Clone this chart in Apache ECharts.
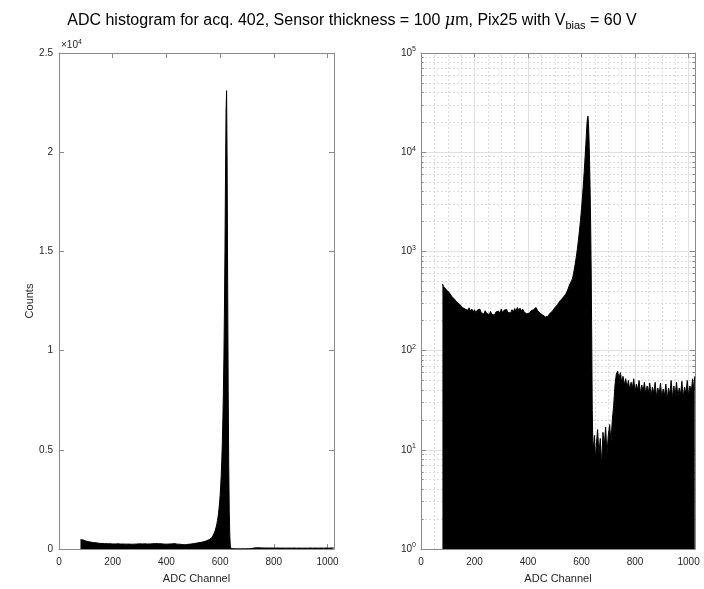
<!DOCTYPE html>
<html><head><meta charset="utf-8">
<script src="https://cdn.jsdelivr.net/npm/echarts@6/dist/echarts.min.js"></script>
<style>html,body{margin:0;padding:0;background:#fff}#c{width:704px;height:589px}</style>
</head><body><div id="c"></div>
<script>
// ADC channel positions of the read samples
const channels = [
 80,85,90,95,100,105,110,115,120,125,130,135,140,145,150,155,160,165,170,175,
 180,185,190,195,200,205,210,215,220,225,230,235,240,245,250,255,260,265,270,275,
 280,285,290,295,300,305,310,315,320,325,330,335,340,345,350,355,360,365,370,375,
 380,385,390,395,400,405,410,415,420,425,430,435,440,445,450,455,460,465,470,475,
 480,485,490,495,500,505,510,515,520,525,530,535,540,545,550,555,
 560,562,564,566,568,570,572,574,576,578,580,582,584,586,588,590,592,594,596,598,
 600,602,604,606,608,610,612,614,616,618,620,622,624,626,628,630,632,634,636,638,640,642,
 644,648,652,656,660,665,670,675,680,685,690,695,700,705,710,715,720,725,730,735,
 740,745,750,755,760,765,770,775,780,785,790,795,800,805,810,815,820,825,830,835,
 840,845,850,855,860,865,870,875,880,885,890,895,900,905,910,915,920,925,930,935,
 940,945,950,955,960,965,970,975,980,985,990,995,1000,1005,1010,1015,1020,1023
];
// counts at those channels
const counts = [
 470,440,455,410,400,385,370,352,345,330,320,305,312,292,285,272,280,262,268,255,
 270,250,262,245,258,240,255,245,262,240,250,235,252,238,245,230,248,232,240,228,
 245,235,250,238,262,240,255,245,260,242,250,240,258,245,265,250,272,255,268,250,
 262,245,250,235,245,238,250,245,258,265,272,255,245,238,240,228,225,218,212,222,
 235,230,248,255,270,282,290,300,318,330,340,352,368,390,420,460,
 480,500,510,530,560,600,640,690,740,800,870,950,1040,1150,1280,1430,1600,1800,2050,2350,
 2700,3150,3700,4400,5300,6400,7800,9600,12000,15000,18800,22000,23100,19500,13500,8000,4200,1900,650,140,25,12,
 10,14,8,12,16,9,13,7,15,11,17,9,14,18,12,20,28,45,58,62,
 52,60,48,55,45,52,42,50,40,48,42,52,38,46,40,50,37,45,39,48,
 36,44,38,47,35,43,37,48,34,42,36,47,33,41,35,46,32,42,36,50,
 33,44,35,48,34,42,36,49,34,43,37,50,35,44,38,52,40,55
];
const xTickLabels = [0, 200, 400, 600, 800, 1000];
const yLinTickLabels = ['0', '0.5', '1', '1.5', '2', '2.5'];
const yLogExponents = [0, 1, 2, 3, 4, 5];

const FONT = '"Liberation Sans", Arial, sans-serif';
const axisColor = '#8a8a8a';
const labelColor = '#262626';
const data = channels.map((c, i) => [c, counts[i]]);

const minorY = [];
for (let k = 0; k < 5; k++) for (let m = 2; m <= 9; m++) minorY.push(m * Math.pow(10, k));
const minorX = [];
for (let v = 50; v < 1024; v += 50) if (v % 200 !== 0) minorX.push(v);

function bottomX(gi, grid) {
  return {
    type: 'value', gridIndex: gi, min: 0, max: 1024, interval: 200, position: 'bottom',
    axisLine: { show: true, onZero: false, lineStyle: { color: axisColor } },
    axisTick: { show: true, inside: true, length: 5, lineStyle: { color: axisColor } },
    axisLabel: { color: labelColor, fontSize: 10, fontFamily: FONT, margin: 8,
      formatter: v => xTickLabels.includes(v) ? String(v) : '' },
    splitLine: { show: grid, lineStyle: { color: '#e0e0e0' } },
    name: 'ADC Channel', nameLocation: 'middle', nameGap: 24,
    nameTextStyle: { fontSize: 11, color: labelColor, fontFamily: FONT }
  };
}
function topX(gi) {
  return {
    type: 'value', gridIndex: gi, min: 0, max: 1024, interval: 200, position: 'top',
    axisLine: { show: true, onZero: false, lineStyle: { color: axisColor } },
    axisTick: { show: true, inside: true, length: 5, lineStyle: { color: axisColor } },
    axisLabel: { show: false }, splitLine: { show: false }
  };
}
const supRich = {
  b: { fontSize: 10, color: labelColor, fontFamily: FONT },
  s: { fontSize: 7, color: labelColor, fontFamily: FONT, padding: [0, 0, 7, 0] }
};

const option = {
  animation: false,
  backgroundColor: '#fff',
  title: {
    text: 'ADC histogram for acq. 402, Sensor thickness = 100 {it|μ}m, Pix25 with V{sub|bias} = 60 V',
    left: 'center', top: 6,
    textStyle: {
      fontSize: 16, fontWeight: 'normal', color: '#000', fontFamily: FONT,
      rich: {
        it: { fontSize: 16, fontStyle: 'italic', color: '#000', fontFamily: '"DejaVu Serif", serif' },
        sub: { fontSize: 11, color: '#000', fontFamily: FONT, padding: [9, 0, 0, 0] }
      }
    }
  },
  graphic: [{
    type: 'text', left: 61, top: 39,
    style: { text: '×10{s|4}', rich: { s: { fontSize: 7, fill: labelColor, fontFamily: FONT, padding: [0, 0, 6, 0] } },
      fontSize: 10, fill: labelColor, fontFamily: FONT }
  }],
  grid: [
    { left: 59, top: 53, width: 275, height: 503 },
    { left: 421, top: 53, width: 274, height: 503 }
  ],
  xAxis: [bottomX(0, false), topX(0), bottomX(1, true), topX(1)],
  yAxis: [
    { type: 'value', gridIndex: 0, min: 0, max: 25000, interval: 5000, position: 'left',
      axisLine: { show: true, onZero: false, lineStyle: { color: axisColor } },
      axisTick: { show: true, inside: true, length: 5, lineStyle: { color: axisColor } },
      axisLabel: { color: labelColor, fontSize: 10, fontFamily: FONT, margin: 6,
        formatter: v => yLinTickLabels[Math.round(v / 5000)] },
      splitLine: { show: false },
      name: 'Counts', nameLocation: 'middle', nameGap: 21, nameRotate: 90,
      nameTextStyle: { fontSize: 11, color: labelColor, fontFamily: FONT } },
    { type: 'value', gridIndex: 0, min: 0, max: 25000, interval: 5000, position: 'right',
      axisLine: { show: true, onZero: false, lineStyle: { color: axisColor } },
      axisTick: { show: true, inside: true, length: 5, lineStyle: { color: axisColor } },
      axisLabel: { show: false }, splitLine: { show: false } },
    { type: 'log', logBase: 10, gridIndex: 1, min: 1, max: 100000, position: 'left',
      axisLine: { show: true, onZero: false, lineStyle: { color: axisColor } },
      axisTick: { show: true, inside: true, length: 5, lineStyle: { color: axisColor } },
      axisLabel: { margin: 5, formatter: v => '{b|10}{s|' + yLogExponents[Math.round(Math.log10(v))] + '}', rich: supRich },
      splitLine: { show: true, lineStyle: { color: '#e0e0e0' } } },
    { type: 'log', logBase: 10, gridIndex: 1, min: 1, max: 100000, position: 'right',
      axisLine: { show: true, onZero: false, lineStyle: { color: axisColor } },
      axisTick: { show: true, inside: true, length: 5, lineStyle: { color: axisColor } },
      axisLabel: { show: false }, splitLine: { show: false } }
  ],
  series: [
    { type: 'line', xAxisIndex: 0, yAxisIndex: 0, data: data, showSymbol: false, z: 5,
      lineStyle: { color: '#000', width: 1 }, areaStyle: { color: '#000', opacity: 1 } },
    { type: 'line', xAxisIndex: 2, yAxisIndex: 2, data: [], z: 1, silent: true,
      markLine: { silent: true, symbol: 'none', animation: false, z: 1, label: { show: false },
        lineStyle: { color: '#dcdcdc', type: [2, 2], width: 1 },
        data: minorY.map(v => ({ yAxis: v })).concat(minorX.map(v => ({ xAxis: v }))) } },
    { type: 'line', xAxisIndex: 2, yAxisIndex: 2, data: [], z: 2, silent: true,
      markLine: { silent: true, symbol: 'none', animation: false, z: 2, label: { show: false },
        lineStyle: { color: axisColor, type: 'solid', width: 1 },
        data: minorY.map(v => [{ coord: [0, v] }, { coord: [10, v] }])
          .concat(minorY.map(v => [{ coord: [1014, v] }, { coord: [1024, v] }])) } },
    { type: 'line', xAxisIndex: 2, yAxisIndex: 2, data: data, showSymbol: false, z: 5,
      lineStyle: { color: '#000', width: 1 }, areaStyle: { color: '#000', opacity: 1, origin: 'start' } }
  ]
};
const chart = echarts.init(document.getElementById('c'));
chart.setOption(option);
</script>
</body></html>
